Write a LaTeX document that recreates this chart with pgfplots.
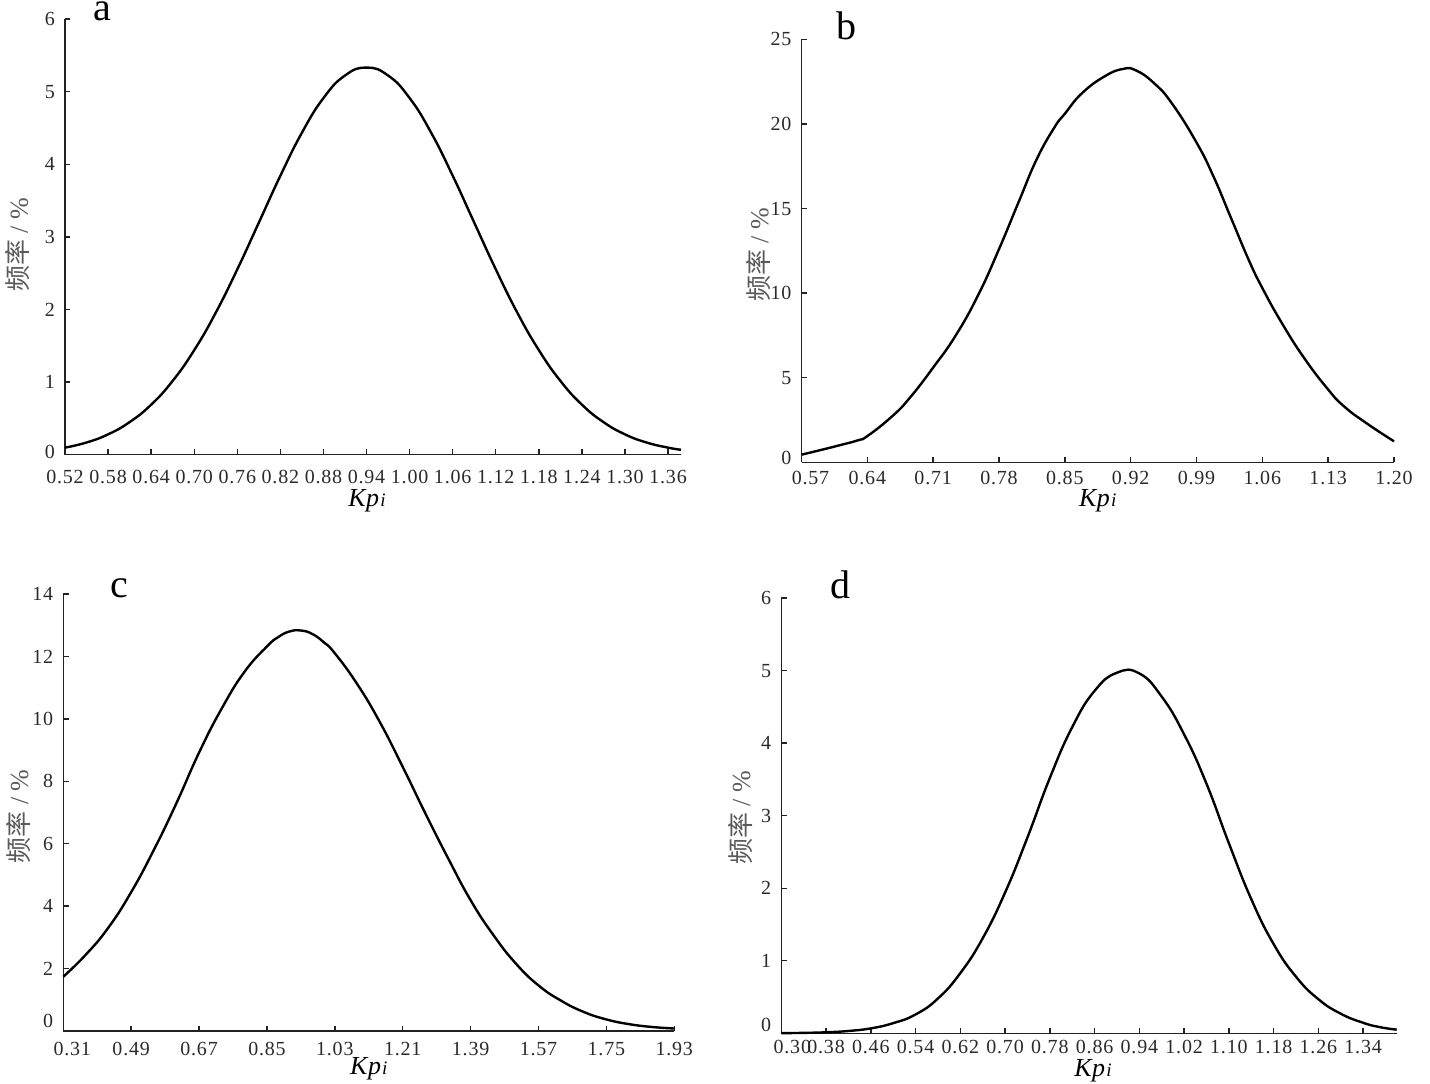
\documentclass[border=0pt]{standalone}
\usepackage{fontspec}
\setmainfont{Liberation Serif}
\newfontfamily\cjk{Noto Sans CJK SC}
\newfontfamily\tickfont[LetterSpace=4]{Liberation Serif}
\usepackage{pgfplots}
\pgfplotsset{compat=1.18}
\definecolor{axcol}{HTML}{222222}
\definecolor{lblcol}{HTML}{2A2A2A}
\definecolor{ylcol}{HTML}{5A5A5A}
\pgfplotsset{
  panel/.style={
    scale only axis, axis lines=left,
    axis line style={-, line width=0.75pt, color=axcol},
    tick align=inside, major tick length=2.7pt,
    tick style={line width=0.7pt, color=axcol},
    ticklabel style={font=\tickfont\fontsize{10}{10}\selectfont, text=lblcol},
    /pgf/number format/assume math mode=true,
    clip=false,
    ylabel={{\cjk 频率} / \%},
    ylabel style={at={(axis description cs:0,0.5)}, anchor=center, text=ylcol,
      font=\fontsize{13}{13}\selectfont},
    xlabel={{\itshape K\kern0.3pt p}{\itshape\fontsize{9.5}{10}\selectfont\kern0.6pt i}},
    xlabel style={at={(axis description cs:0.5,0)}, anchor=center,
      font=\fontsize{13}{13}\selectfont, text=black},
    yticklabel style={xshift=-1.5pt},
  },
  curve/.style={line width=1.2pt, black, smooth, tension=0.8, no markers},
}
\begin{document}
\begin{tikzpicture}
\useasboundingbox (0,0) rectangle (715pt,541.5pt);
% ---------------- panel a
\begin{axis}[panel, at={(32.5pt,314.15pt)}, anchor=south west,
  width=308pt, height=217.85pt,
  xmin=0.52, xmax=1.378, ymin=0, ymax=6,
  xtick={0.52,0.58,0.64,0.70,0.76,0.82,0.88,0.94,1.00,1.06,1.12,1.18,1.24,1.30,1.36},
  xticklabels={0.52,0.58,0.64,0.70,0.76,0.82,0.88,0.94,1.00,1.06,1.12,1.18,1.24,1.30,1.36},
  xticklabel style={yshift=-4.3pt},
  ytick={1,2,3,4,5,6}, yticklabels={1,2,3,4,5,6},
  extra y ticks={0}, extra y tick labels={0},
  extra y tick style={yticklabel style={yshift=1.2pt}},
  ylabel style={yshift=23.5pt, xshift=-4pt},
  xlabel style={yshift=-23pt, xshift=-3pt},
]
\addplot[curve] coordinates {
(0.52,0.097)(0.55,0.168)(0.58,0.280)(0.61,0.449)(0.64,0.689)(0.67,1.017)
(0.70,1.440)(0.73,1.956)(0.76,2.553)(0.79,3.196)(0.82,3.842)(0.85,4.434)
(0.88,4.911)(0.91,5.222)(0.94,5.33)(0.97,5.222)(1.00,4.911)(1.03,4.434)
(1.06,3.842)(1.09,3.196)(1.12,2.553)(1.15,1.956)(1.18,1.440)(1.21,1.017)
(1.24,0.689)(1.27,0.449)(1.30,0.280)(1.33,0.168)(1.36,0.097)(1.378,0.068)};
\end{axis}
% ---------------- panel b
\begin{axis}[panel, at={(400.75pt,310.35pt)}, anchor=south west,
  width=296.25pt, height=211.5pt,
  xmin=0.57, xmax=1.20, ymin=0, ymax=25,
  xtick={0.64,0.71,0.78,0.85,0.92,0.99,1.06,1.13,1.20},
  xticklabels={0.64,0.71,0.78,0.85,0.92,0.99,1.06,1.13,1.20},
  extra x ticks={0.57}, extra x tick labels={0.57},
  extra x tick style={xticklabel style={xshift=4.5pt}},
  xticklabel style={yshift=-0.8pt},
  ytick={5,10,15,20,25}, yticklabels={5,10,15,20,25},
  extra y ticks={0}, extra y tick labels={0},
  extra y tick style={yticklabel style={yshift=2.3pt}},
  ylabel style={yshift=21.5pt, xshift=-2pt},
  xlabel style={yshift=-19pt},
]
\addplot[curve] coordinates {
(0.57,0.45)(0.59,0.72)(0.61,1.0)(0.63,1.3)(0.64,1.55)(0.666,2.7)(0.685,3.8)
(0.71,5.6)(0.734,7.5)(0.758,9.9)(0.78,12.6)(0.801,15.4)(0.82,17.9)
(0.839,19.8)(0.85,20.6)(0.868,21.8)(0.892,22.8)(0.912,23.25)(0.926,23.15)
(0.945,22.4)(0.964,21.2)(0.99,18.9)(1.008,16.9)(1.027,14.4)(1.046,11.9)
(1.06,10.3)(1.08,8.3)(1.104,6.2)(1.13,4.3)(1.147,3.3)(1.171,2.3)(1.20,1.24)};
\end{axis}
% ---------------- panel c
\begin{axis}[panel, at={(31.65pt,26pt)}, anchor=south west,
  width=305.5pt, height=218.5pt,
  xmin=0.31, xmax=1.93, ymin=0, ymax=14,
  xtick={0.49,0.67,0.85,1.03,1.21,1.39,1.57,1.75,1.93},
  xticklabels={0.49,0.67,0.85,1.03,1.21,1.39,1.57,1.75,1.93},
  extra x ticks={0.31}, extra x tick labels={0.31},
  extra x tick style={xticklabel style={xshift=4.5pt}},
  xticklabel style={yshift=-2.1pt},
  ytick={2,4,6,8,10,12,14}, yticklabels={2,4,6,8,10,12,14},
  extra y ticks={0}, extra y tick labels={0},
  extra y tick style={yticklabel style={yshift=5pt}},
  ylabel style={yshift=22.5pt, xshift=-2pt},
  xlabel style={yshift=-19pt},
]
\addplot[curve] coordinates {
(0.31,1.74)(0.37,2.45)(0.43,3.32)(0.49,4.45)(0.55,5.80)(0.61,7.30)
(0.67,8.92)(0.73,10.33)(0.79,11.50)(0.85,12.32)(0.88,12.62)(0.91,12.80)
(0.94,12.83)(0.97,12.72)(1.00,12.46)(1.03,12.10)(1.09,11.10)(1.15,9.88)
(1.21,8.46)(1.27,6.97)(1.33,5.54)(1.39,4.19)(1.45,3.08)(1.51,2.16)
(1.57,1.46)(1.63,0.97)(1.69,0.61)(1.75,0.37)(1.81,0.22)(1.87,0.13)(1.93,0.08)};
\end{axis}
% ---------------- panel d
\begin{axis}[panel, at={(390.65pt,24.85pt)}, anchor=south west,
  width=307.7pt, height=217.65pt,
  xmin=0.30, xmax=1.40, ymin=0, ymax=6,
  xtick={0.38,0.46,0.54,0.62,0.70,0.78,0.86,0.94,1.02,1.10,1.18,1.26,1.34},
  xticklabels={0.38,0.46,0.54,0.62,0.70,0.78,0.86,0.94,1.02,1.10,1.18,1.26,1.34},
  extra x ticks={0.30}, extra x tick labels={0.30},
  extra x tick style={xticklabel style={xshift=5.5pt}},
  xticklabel style={yshift=0pt},
  ytick={1,2,3,4,5,6}, yticklabels={1,2,3,4,5,6},
  extra y ticks={0}, extra y tick labels={0},
  extra y tick style={yticklabel style={yshift=4pt}},
  ylabel style={yshift=20.5pt, xshift=-1pt},
  xlabel style={yshift=-18.5pt, xshift=2pt},
]
\addplot[curve] coordinates {
(0.30,0.002)(0.34,0.006)(0.38,0.014)(0.42,0.032)(0.46,0.068)(0.50,0.14)
(0.54,0.26)(0.58,0.48)(0.62,0.83)(0.66,1.31)(0.70,1.94)(0.74,2.70)
(0.78,3.52)(0.82,4.22)(0.86,4.72)(0.90,4.97)(0.94,4.96)
(0.98,4.64)(1.02,4.12)(1.06,3.44)(1.10,2.62)(1.14,1.85)(1.18,1.23)
(1.22,0.78)(1.26,0.47)(1.30,0.27)(1.34,0.145)(1.37,0.085)(1.40,0.05)};
\end{axis}
% panel letters
\node[anchor=base, font=\fontsize{20}{20}\selectfont] at (51pt,531pt) {a};
\node[anchor=base, font=\fontsize{20}{20}\selectfont] at (423pt,521.85pt) {b};
\node[anchor=base, font=\fontsize{20}{20}\selectfont] at (59.5pt,242.5pt) {c};
\node[anchor=base, font=\fontsize{20}{20}\selectfont] at (420pt,242pt) {d};
\end{tikzpicture}
\end{document}
